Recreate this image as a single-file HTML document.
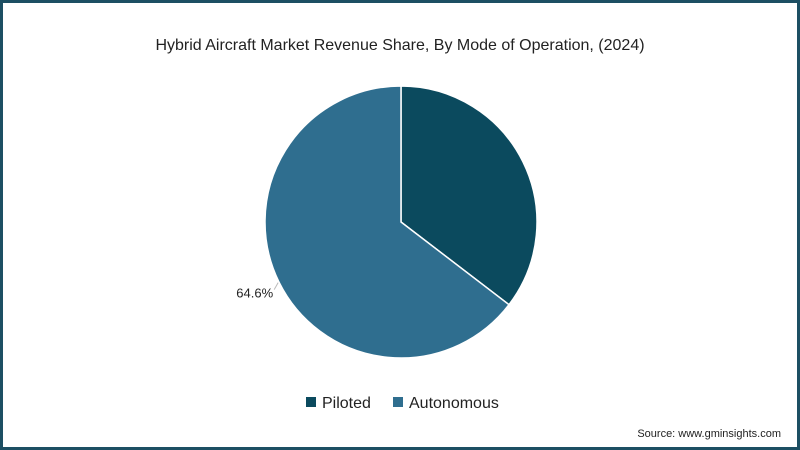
<!DOCTYPE html>
<html><head><meta charset="utf-8"><style>
body{margin:0;width:800px;height:450px;overflow:hidden;background:#fff;font-family:"Liberation Sans",sans-serif}
#frame{position:absolute;left:0;top:0;width:794px;height:444px;border:3px solid #1d4f63;background:#fff}
</style></head><body>
<div id="frame"></div>
<svg id="chart" width="800" height="450" style="position:absolute;left:0;top:0">
<text x="400" y="50" text-anchor="middle" font-size="16" fill="#222">Hybrid Aircraft Market Revenue Share, By Mode of Operation, (2024)</text>
<g id="slices"></g>
<g>
<rect x="306" y="397" width="10" height="10" fill="#0b4a5e"/>
<text x="322" y="408" font-size="16" fill="#222">Piloted</text>
<rect x="393" y="397" width="10" height="10" fill="#2f6e8f"/>
<text x="409" y="408" font-size="16" fill="#222">Autonomous</text>
</g>
<text x="781" y="437" text-anchor="end" font-size="11" fill="#222">Source: www.gminsights.com</text>
</svg>
<script>
const categories=["Piloted","Autonomous"];
const values=[35.4,64.6];
const labels=[null,"64.6%"];
const colors=["#0b4a5e","#2f6e8f"];
const cx=401,cy=222,r=136;
const g=document.getElementById('slices');
const NS="http://www.w3.org/2000/svg";
const total=values.reduce((a,b)=>a+b,0);
let a0=0;
function pt(a,rr){return [cx+rr*Math.sin(a),cy-rr*Math.cos(a)];}
values.forEach((v,i)=>{
  const a1=a0+v/total*2*Math.PI;
  const p0=pt(a0,r),p1=pt(a1,r);
  const large=(a1-a0)>Math.PI?1:0;
  const path=document.createElementNS(NS,'path');
  path.setAttribute('d',`M${cx},${cy}L${p0[0]},${p0[1]}A${r},${r} 0 ${large} 1 ${p1[0]},${p1[1]}Z`);
  path.setAttribute('fill',colors[i]);
  path.setAttribute('stroke','#fff');
  path.setAttribute('stroke-width','1.5');
  
  
  g.appendChild(path);
  if(labels[i]){
    const am=(a0+a1)/2;
    const e=pt(am,r+1);
    const f=[e[0]-4,e[1]+7];
    const ln=document.createElementNS(NS,'line');
    ln.setAttribute('x1',e[0]);ln.setAttribute('y1',e[1]);ln.setAttribute('x2',f[0]);ln.setAttribute('y2',f[1]);
    ln.setAttribute('stroke','#bbb');
    
    
    g.appendChild(ln);
    const t=document.createElementNS(NS,'text');
    t.setAttribute('x',f[0]-1);t.setAttribute('y',f[1]+8);
    t.setAttribute('text-anchor','end');t.setAttribute('font-size','13');t.setAttribute('fill','#222');
    t.textContent=labels[i];
    
    
    g.appendChild(t);
  }
  a0=a1;
});
</script>
</body></html>
